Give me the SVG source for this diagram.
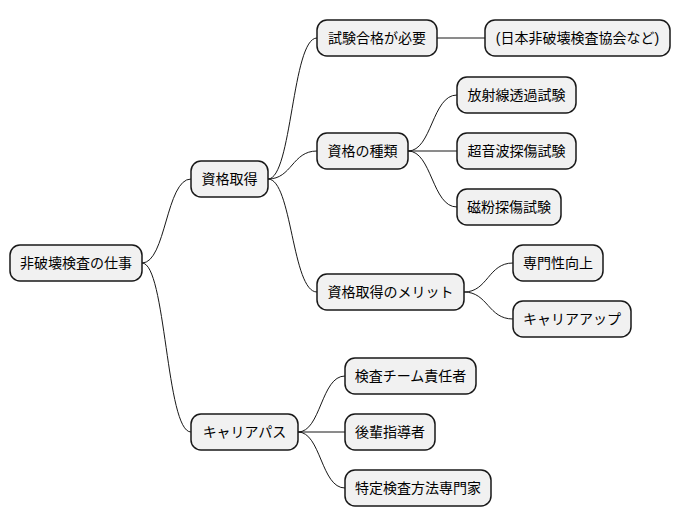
<svg xmlns="http://www.w3.org/2000/svg" width="681" height="527" viewBox="0 0 681 527">
<style>
.n rect{fill:#F1F1F1;stroke:#181818;stroke-width:1.5}
.n text{font-family:"Liberation Sans","Noto Sans CJK JP",sans-serif;font-size:14px;fill:#000;text-anchor:middle;dominant-baseline:central}
#c path{fill:none;stroke:#181818;stroke-width:1}
</style>
<rect width="681" height="527" fill="#fff"/>
<g id="c">
<path d="M142,263 C166,263 166,179 191,179"/>
<path d="M142,263 C166,263 166,432 191,432"/>
<path d="M268,179 C292,179 292,38 317,38"/>
<path d="M268,179 C292,179 292,151 317,151"/>
<path d="M268,179 C292,179 292,292 317,292"/>
<path d="M437,38 L485,38"/>
<path d="M408,151 C432,151 432,95 457,95"/>
<path d="M408,151 L457,151"/>
<path d="M408,151 C432,151 432,207 457,207"/>
<path d="M464,292 C488,292 488,263 513,263"/>
<path d="M464,292 C488,292 488,319 513,319"/>
<path d="M298,432 C321,432 321,376 345,376"/>
<path d="M298,432 L345,432"/>
<path d="M298,432 C321,432 321,488 345,488"/>
</g>
<g id="root" class="n"><rect x="10" y="245" width="132" height="36" rx="10"/><text x="76" y="263">非破壊検査の仕事</text></g>
<g id="shikaku" class="n"><rect x="191" y="161" width="77" height="36" rx="10"/><text x="229.5" y="179">資格取得</text></g>
<g id="career" class="n"><rect x="191" y="414" width="107" height="36" rx="10"/><text x="244.5" y="432">キャリアパス</text></g>
<g id="shiken" class="n"><rect x="317" y="20" width="120" height="36" rx="10"/><text x="377" y="38">試験合格が必要</text></g>
<g id="kyokai" class="n"><rect x="485" y="20" width="185" height="36" rx="10"/><text x="577.5" y="38">(日本非破壊検査協会など)</text></g>
<g id="shurui" class="n"><rect x="317" y="133" width="91" height="36" rx="10"/><text x="362.5" y="151">資格の種類</text></g>
<g id="rt" class="n"><rect x="457" y="77" width="119" height="36" rx="10"/><text x="516.5" y="95">放射線透過試験</text></g>
<g id="ut" class="n"><rect x="457" y="133" width="119" height="36" rx="10"/><text x="516.5" y="151">超音波探傷試験</text></g>
<g id="mt" class="n"><rect x="457" y="189" width="104" height="36" rx="10"/><text x="509" y="207">磁粉探傷試験</text></g>
<g id="merit" class="n"><rect x="317" y="274" width="147" height="36" rx="10"/><text x="390.5" y="292">資格取得のメリット</text></g>
<g id="senmon" class="n"><rect x="513" y="245" width="90" height="36" rx="10"/><text x="558" y="263">専門性向上</text></g>
<g id="up" class="n"><rect x="513" y="301" width="118" height="36" rx="10"/><text x="572" y="319">キャリアアップ</text></g>
<g id="leader" class="n"><rect x="345" y="358" width="131" height="36" rx="10"/><text x="410.5" y="376">検査チーム責任者</text></g>
<g id="mentor" class="n"><rect x="345" y="414" width="90" height="36" rx="10"/><text x="390" y="432">後輩指導者</text></g>
<g id="expert" class="n"><rect x="345" y="470" width="146" height="36" rx="10"/><text x="418" y="488">特定検査方法専門家</text></g>
</svg>
